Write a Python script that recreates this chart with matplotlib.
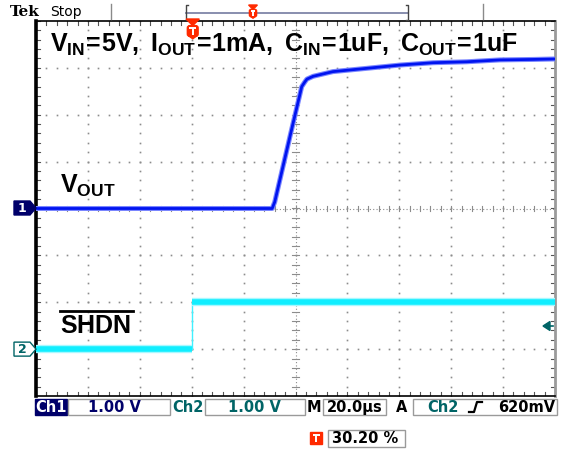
import matplotlib
matplotlib.use("Agg")
import matplotlib.pyplot as plt
from matplotlib.patches import Rectangle, Polygon, FancyBboxPatch
import numpy as np

# scope settings
volts_per_div = 1.0
us_per_div = 20.0
trigger_pct = 30.20

# Ch1 (VOUT), time in us, volts
ch1_t = [0, 91, 92, 97.8, 102.4, 103.6, 104.4, 106.8, 114.4, 127.4, 140.2, 153, 166, 178.8, 191.6, 200]
ch1_v = [0, 0, 0.14, 1.52, 2.60, 2.70, 2.76, 2.82, 2.92, 2.99, 3.06, 3.11, 3.13, 3.17, 3.18, 3.19]
ch1_offset = 0.0

# Ch2 (SHDN)
ch2_t = [0, 60, 60, 200]
ch2_v = [0, 0, 1.0, 1.0]
ch2_offset = -3.0

title = r'$\mathbf{V_{IN}\!=\!5V,\;I_{OUT}\!=\!1mA,\;C_{IN}\!=\!1uF,\;C_{OUT}\!=\!1uF}$'

plt.rcParams['mathtext.fontset'] = 'custom'
plt.rcParams['mathtext.bf'] = 'Liberation Sans:bold'
plt.rcParams['mathtext.rm'] = 'Liberation Sans'

W, H = 564, 450
fig = plt.figure(figsize=(W / 100, H / 100), dpi=100)
fig.patch.set_facecolor('white')

# main scope screen
L, R, T, B = 36, 555, 21, 396
ax = fig.add_axes([L / W, 1 - B / H, (R - L) / W, (B - T) / H])
xmax = 10 * us_per_div
ax.set_xlim(0, xmax)
ax.set_ylim(-4, 4)
ax.set_xticks([])
ax.set_yticks([])
for side, lw, col in [('left', 2.6, 'black'), ('top', 1.2, 'black'),
                      ('bottom', 1.2, 'black'), ('right', 2.0, '#9a9a9a')]:
    ax.spines[side].set_linewidth(lw)
    ax.spines[side].set_color(col)

gcol = '#8c8c8c'
ydots = np.arange(-4, 4.01, 0.2)
xdots = np.arange(0, xmax + 0.01, us_per_div / 5)
for k in range(1, 10):
    if k == 5:
        continue
    ax.plot(np.full_like(ydots, k * us_per_div), ydots, ls='none', marker='s', ms=1.2, color=gcol, mew=0)
for k in range(-3, 4):
    if k == 0:
        continue
    ax.plot(xdots, np.full_like(xdots, k), ls='none', marker='s', ms=1.2, color=gcol, mew=0)

# center cross
ax.axhline(0, color=gcol, lw=0.8, ls=(0, (1, 2)))
ax.axvline(xmax / 2, color=gcol, lw=0.8, ls=(0, (1, 2)))
tx = 0.06 * us_per_div
for y in ydots:
    ax.plot([xmax / 2 - tx, xmax / 2 + tx], [y, y], color=gcol, lw=0.8)
for x in xdots:
    ax.plot([x, x], [-0.06, 0.06], color=gcol, lw=0.8)
# border ticks
for x in xdots:
    ax.plot([x, x], [4, 3.92], color='#555555', lw=0.8)
    ax.plot([x, x], [-4, -3.92], color='#555555', lw=0.8)
for y in ydots:
    ax.plot([0, 0.08 * us_per_div], [y, y], color='#555555', lw=0.8)
    ax.plot([xmax, xmax - 0.08 * us_per_div], [y, y], color='#555555', lw=0.8)

# traces
c1 = np.array(ch1_v) / volts_per_div + ch1_offset
c2 = np.array(ch2_v) / volts_per_div + ch2_offset
ax.plot(ch2_t, c2, color='#40f0ff', lw=1.0, zorder=5)
for sl in (slice(0, 2), slice(2, 4)):
    ax.plot(ch2_t[sl], c2[sl], color='#a8f8ff', lw=6.0, solid_capstyle='butt', zorder=5)
    ax.plot(ch2_t[sl], c2[sl], color='#10eeff', lw=4.0, solid_capstyle='butt', zorder=6)
ax.plot(ch1_t, c1, color='#7a86ff', lw=3.6, solid_capstyle='butt', zorder=7)
ax.plot(ch1_t, c1, color='#0014f0', lw=2.0, solid_capstyle='butt', zorder=8)

# overlay in pixel coordinates
ov = fig.add_axes([0, 0, 1, 1], facecolor='none')
ov.set_xlim(0, W)
ov.set_ylim(H, 0)
ov.axis('off')

ov.text(50, 45, title, fontsize=18, ha='left', va='center')
ov.text(60, 186, r'$\mathbf{V_{OUT}}$', fontsize=18, ha='left', va='center')
ov.text(60, 326, r'$\mathbf{SHDN}$', fontsize=18, ha='left', va='center')
ov.plot([60, 133], [311, 311], color='black', lw=2)

# header
ov.text(10, 12, 'Tek', fontsize=11, fontweight='bold', family='DejaVu Serif', ha='left', va='center')
ov.text(50, 12, 'Stop', fontsize=10, family='DejaVu Sans', ha='left', va='center')
ov.plot([111, 111], [4, 19], color='#8a8a8a', lw=1)
ov.plot([483, 483], [4, 19], color='#8a8a8a', lw=1)
ov.plot([186, 408], [13, 13], color='#7f86a8', lw=1.3)
ov.plot([188, 186, 186, 188], [5, 5, 20, 20], color='#444444', lw=1)
ov.plot([406, 408, 408, 406], [5, 5, 20, 20], color='#444444', lw=1)

red = '#ff2a00'


def trig_icon(x, y, s):
    # arrow head above a rounded box with a white T, drawn as patches
    ov.add_patch(Polygon([[x - s * 0.55, y - s], [x + s * 0.55, y - s], [x, y - s * 0.45]],
                         closed=True, color=red, zorder=10))
    ov.add_patch(FancyBboxPatch((x - s * 0.45, y - s * 0.45), s * 0.9, s * 0.9,
                                boxstyle='round,pad=0,rounding_size=%.1f' % (s * 0.2),
                                fc=red, ec=red, zorder=10))
    ov.plot([x - s * 0.3, x + s * 0.3], [y - s * 0.25, y - s * 0.25], color='white', lw=1.4,
            solid_capstyle='butt', zorder=11)
    ov.plot([x, x], [y - s * 0.25, y + s * 0.35], color='white', lw=1.4, solid_capstyle='butt', zorder=11)
    ov.add_patch(Polygon([[x - s * 0.35, y + s * 0.4], [x + s * 0.35, y + s * 0.4], [x, y + s * 0.65]],
                         closed=True, color=red, zorder=10))


trig_x = L + (R - L) * trigger_pct / 100
trig_icon(253, 13, 8)
trig_icon(trig_x, 31, 12)

# channel markers
navy = '#00006a'
teal = '#006466'
ov.add_patch(Polygon([[14, 201], [30, 201], [36, 208], [30, 215], [14, 215]], closed=True,
                     fc=navy, ec=navy, zorder=10))
ov.text(22, 208.5, '1', color='white', fontsize=9, fontweight='bold', ha='center', va='center', zorder=11)
y2 = 208.5 - ch2_offset * (B - T) / 8
ov.add_patch(Polygon([[14, y2 - 7], [30, y2 - 7], [36, y2], [30, y2 + 7], [14, y2 + 7]], closed=True,
                     fc='white', ec=teal, lw=1, zorder=10))
ov.text(22, y2 + 0.5, '2', color=teal, fontsize=9, fontweight='bold', ha='center', va='center', zorder=11)
# trigger level arrow
ov.add_patch(Polygon([[543, 326], [550, 321.5], [550, 330.5]], closed=True, fc=teal, ec=teal, zorder=10))
ov.plot([550, 553], [326, 326], color=teal, lw=1.2)

# bottom status bar
fs = 10.5
yb = 407.5
ov.add_patch(Rectangle((35, 399), 32, 16, fc=navy, ec=navy))
ov.text(51, yb, 'Ch1', color='white', fontsize=fs, fontweight='bold', ha='center', va='center')
for x0, x1 in [(68, 170), (205, 305), (323, 386), (413, 557)]:
    ov.add_patch(Rectangle((x0, 399), x1 - x0, 16, fc='none', ec='#9a9a9a', lw=1))
ov.text(114, yb, '%.2f V' % volts_per_div, color=navy, fontsize=fs, fontweight='bold', ha='center', va='center')
ov.text(188, yb, 'Ch2', color=teal, fontsize=fs, fontweight='bold', ha='center', va='center')
ov.text(254, yb, '%.2f V' % volts_per_div, color=teal, fontsize=fs, fontweight='bold', ha='center', va='center')
ov.text(314, yb, 'M', color='black', fontsize=fs, fontweight='bold', ha='center', va='center')
ov.text(355, yb, '%.1fµs' % us_per_div, color='black', fontsize=fs, fontweight='bold', ha='center', va='center')
ov.text(402, yb, 'A', color='black', fontsize=fs, fontweight='bold', ha='center', va='center')
ov.text(443, yb, 'Ch2', color=teal, fontsize=fs, fontweight='bold', ha='center', va='center')
ov.plot([469, 474, 477, 482], [412, 412, 402, 402], color='black', lw=1.6)
ov.text(555, yb, '620mV', color='black', fontsize=fs, fontweight='bold', ha='right', va='center')

ov.add_patch(Rectangle((310, 432), 12, 12, fc=red, ec=red))
ov.plot([312.5, 319.5], [435, 435], color='white', lw=1.4, solid_capstyle='butt')
ov.plot([316, 316], [435, 442], color='white', lw=1.4, solid_capstyle='butt')
ov.add_patch(Rectangle((328, 430), 77, 17, fc='none', ec='#9a9a9a', lw=1))
ov.text(332, 438.5, '%.2f %%' % trigger_pct, color='black', fontsize=fs, fontweight='bold', ha='left', va='center')

fig.savefig('out.png', dpi=100)
